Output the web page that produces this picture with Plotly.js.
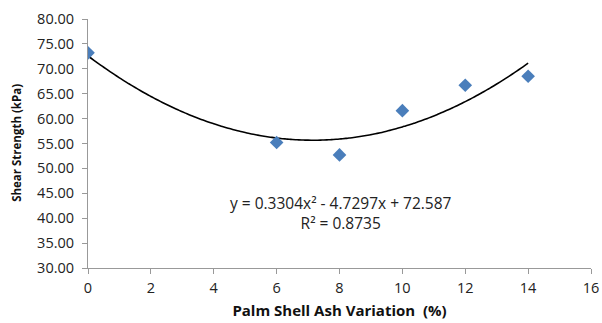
<!DOCTYPE html>
<html><head><meta charset="utf-8">
<script src="https://cdn.plot.ly/plotly-3.0.1.min.js"></script>
<style>body{margin:0;background:#fff}#c{width:602px;height:323px}</style>
</head><body><div id="c"></div>
<script>
const ashVariation = [0, 6, 8, 10, 12, 14];
const shearStrength = [73.2, 55.2, 52.7, 61.6, 66.7, 68.5];
const trendCoeffs = [0.3304, -4.7297, 72.587]; // a, b, c as printed on chart
const rSquared = 0.8735;
const xTicks = [0, 2, 4, 6, 8, 10, 12, 14, 16];
const yTicks = [30, 35, 40, 45, 50, 55, 60, 65, 70, 75, 80];
const xTitle = 'Palm Shell Ash Variation  (%)';
const yTitle = 'Shear Strength (kPa)';

const tx = [], ty = [];
const x0 = Math.min(...ashVariation), x1 = Math.max(...ashVariation);
for (let i = 0; i <= 140; i++) {
  const x = x0 + (x1 - x0) * i / 140;
  tx.push(x);
  ty.push(trendCoeffs[0]*x*x + trendCoeffs[1]*x + trendCoeffs[2]);
}
const font = "'Open Sans', Lato, sans-serif";
const data = [
  {x: tx, y: ty, mode: 'lines', line: {color: '#000', width: 1.6, shape: 'spline'}, hoverinfo: 'skip'},
  {x: ashVariation, y: shearStrength, mode: 'markers',
   marker: {symbol: 'diamond', size: 10.5, color: '#4A7EBB'}}
];
const layout = {
  width: 602, height: 323, showlegend: false,
  margin: {l: 88, r: 11, t: 19, b: 55},
  paper_bgcolor: '#fff', plot_bgcolor: '#fff',
  font: {family: font, size: 14, color: '#222'},
  xaxis: {range: [0, 16], tickvals: xTicks, ticktext: xTicks.map(String),
    showgrid: false, zeroline: false, showline: true, linecolor: '#999', linewidth: 1,
    ticks: 'outside', ticklen: 5, tickcolor: '#999', ticklabelstandoff: 2,
    tickfont: {size: 14.5, family: font, color: '#222'},
    title: {text: '<b>' + xTitle + '</b>', font: {size: 15, family: font, color: '#111'}, standoff: 9}},
  yaxis: {range: [30, 80], tickvals: yTicks, ticktext: yTicks.map(v => v.toFixed(2)),
    showgrid: false, zeroline: false, showline: true, linecolor: '#999', linewidth: 1,
    ticks: 'outside', ticklen: 5, tickcolor: '#999', ticklabelstandoff: 5,
    tickfont: {size: 14.5, family: font, color: '#222'}},
  annotations: [{
    x: 8.05, y: 41.1, xref: 'x', yref: 'y', showarrow: false, align: 'center',
    text: 'y = ' + trendCoeffs[0] + 'x² - ' + Math.abs(trendCoeffs[1]) + 'x + ' + trendCoeffs[2] + '<br>R² = ' + rSquared,
    font: {size: 15.5, family: font, color: '#222'}
  }, {
    x: -0.141, y: 0.503, xref: 'paper', yref: 'paper', xanchor: 'center', yanchor: 'middle',
    showarrow: false, textangle: -90, text: '<b>' + yTitle + '</b>',
    font: {size: 11.5, family: font, color: '#111'}
  }]
};
Plotly.newPlot('c', data, layout, {displayModeBar: false, staticPlot: true});
</script></body></html>
